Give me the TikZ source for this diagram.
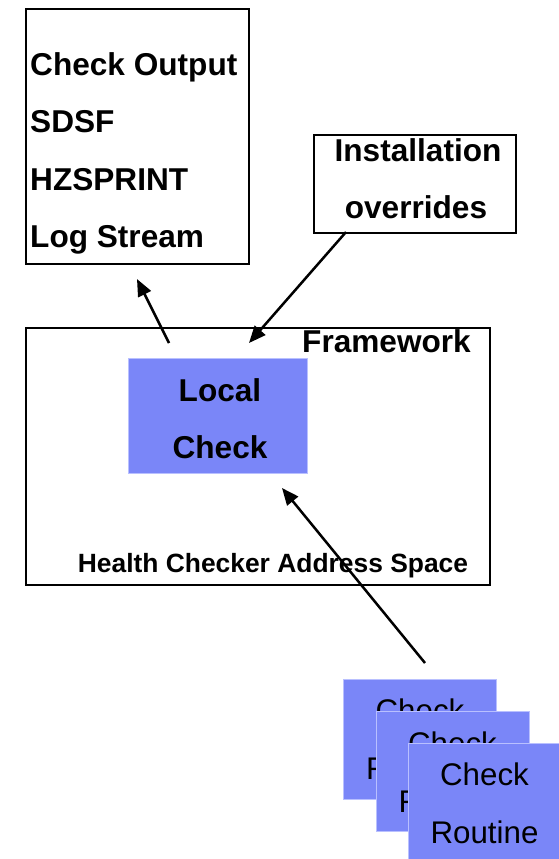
\documentclass[tikz,border=0pt]{standalone}
\usepackage{fontspec}
\setmainfont{Liberation Sans}
\usetikzlibrary{arrows.meta}
\definecolor{chkblue}{RGB}{122,134,248}
\definecolor{chkedge}{RGB}{185,192,255}
\begin{document}
\begin{tikzpicture}[x=1pt,y=-1pt,
  frame/.style={draw=black, line width=2pt, fill=white, inner sep=0pt, anchor=north west},
  bluebox/.style={draw=chkedge, line width=1pt, fill=chkblue, inner sep=0pt, anchor=north west},
  routinebox/.style={bluebox, minimum width=153pt, minimum height=120pt},
  boldtxt/.style={font=\fontsize{31.6}{37}\selectfont\bfseries, inner sep=0pt, anchor=base},
  plaintxt/.style={font=\fontsize{31.3}{37}\selectfont, inner sep=0pt, anchor=base},
  smalltxt/.style={font=\fontsize{26.4}{30}\selectfont\bfseries, inner sep=0pt, anchor=base},
  arr/.style={line width=2.5pt, -{Triangle[length=17pt,width=14pt]}}]
\useasboundingbox (0,0) rectangle (559,859);

% output box
\node[frame, minimum width=223pt, minimum height=255pt] (outbox) at (25,8) {};
\node[boldtxt, anchor=base west] (o1) at (30,75) {Check Output};
\node[boldtxt, anchor=base west] (o2) at (30,132) {SDSF};
\node[boldtxt, anchor=base west] (o3) at (30,190) {HZSPRINT};
\node[boldtxt, anchor=base west] (o4) at (30,247) {Log Stream};

% installation overrides
\node[frame, minimum width=202pt, minimum height=98pt] (instbox) at (313,134) {};
\node[boldtxt] (i1) at (418,161) {Installation};
\node[boldtxt] (i2) at (416,218) {overrides};

% framework / address space
\node[frame, minimum width=464pt, minimum height=257pt] (fwbox) at (25,327) {};
\node[boldtxt, anchor=base west] (fw) at (302,352) {Framework};
\node[smalltxt] (hcas) at (273,572) {Health Checker Address Space};

% local check
\node[bluebox, minimum width=179pt, minimum height=115pt] (local) at (128,358) {};
\node[boldtxt] (l1) at (220,401) {Local};
\node[boldtxt] (l2) at (220,458) {Check};

% stacked check routines
\node[routinebox] (r1) at (343,679) {};
\node[plaintxt] (r1a) at (420,721) {Check};
\node[plaintxt] (r1b) at (420,779) {Routine};
\node[routinebox] (r2) at (376,711) {};
\node[plaintxt] (r2a) at (452.5,754) {Check};
\node[plaintxt] (r2b) at (452.5,812) {Routine};
\node[routinebox] (r3) at (408,743) {};
\node[plaintxt] (r3a) at (484.5,785) {Check};
\node[plaintxt] (r3b) at (484.5,843) {Routine};

% connectors
\coordinate (a1s) at (169,343);
\coordinate (a1e) at (137,279);
\coordinate (a2s) at (346,232);
\coordinate (a2e) at (249,343);
\coordinate (a3s) at (425,663);
\coordinate (a3e) at (282,488);
\draw[arr] (a1s) -- (a1e);
\draw[arr] (a2s) -- (a2e);
\draw[arr] (a3s) -- (a3e);
\end{tikzpicture}
\end{document}
